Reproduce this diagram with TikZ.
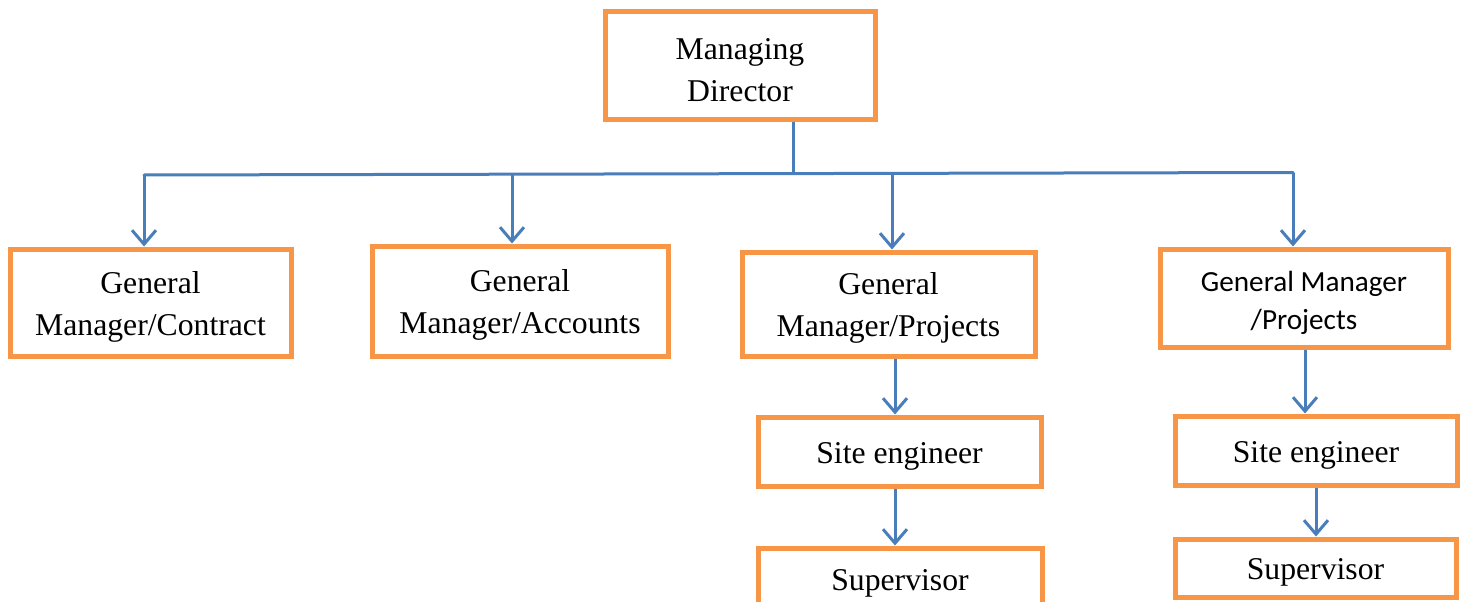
\documentclass[tikz,border=0pt]{standalone}
\usepackage{fontspec}
\setmainfont{Liberation Serif}
\newfontfamily\calib{Carlito}
\usetikzlibrary{arrows.meta}
\definecolor{boxorange}{HTML}{F79646}
\definecolor{lineblue}{HTML}{4A7EBB}
\newcommand\tstrut{\rule{0pt}{30pt}}
\tikzset{
  box/.style={draw=boxorange, line width=5pt, rectangle, inner sep=0pt, align=center,
    font=\fontsize{31.7}{42}\selectfont},
  sansbox/.style={box, font=\calib\fontsize{29.2}{38}\selectfont},
  conn/.style={draw=lineblue, line width=3pt},
  arr/.style={conn, -{Straight Barb[length=14pt,width=24pt,line width=3pt]}}
}
\begin{document}
\begin{tikzpicture}[x=1pt,y=-1pt]
\useasboundingbox (0,0) rectangle (1465,602);
% boxes
\node[box, minimum width=270pt, minimum height=107pt] (md) at (740,65.5) {\tstrut Managing\\Director};
\node[box, minimum width=281pt, minimum height=107pt] (gc) at (150.5,302.5) {\tstrut General\\Manager/Contract};
\node[box, minimum width=296pt, minimum height=110pt] (ga) at (520,301) {\tstrut General\\Manager/Accounts};
\node[box, minimum width=293pt, minimum height=104pt] (gp) at (888.5,304) {\tstrut General\\Manager/Projects};
\node[sansbox, minimum width=288pt, minimum height=98pt] (gp2) at (1304,298) {\tstrut General Manager\\/Projects};
\node[box, minimum width=283pt, minimum height=69pt] (se1) at (899.5,451.5) {\tstrut Site engineer};
\node[box, minimum width=284pt, minimum height=62pt] (su1) at (900,579) {\tstrut Supervisor};
\node[box, minimum width=282pt, minimum height=69pt] (se2) at (1316,450.5) {\tstrut Site engineer};
\node[box, minimum width=281pt, minimum height=58pt] (su2) at (1315.5,568) {\tstrut Supervisor};
% bus
\coordinate (bL) at (144,175);
\coordinate (bA) at (512,174.2);
\coordinate (bM) at (793,173.5);
\coordinate (bP) at (892,173.2);
\coordinate (bR) at (1293,172.5);
\draw[conn] (bM |- md.south) -- (bM);
\draw[conn, line cap=round] (bL) -- (bR);
\draw[arr] (bL) -- (bL |- gc.north);
\draw[arr] (bA) -- (bA |- ga.north);
\draw[arr] (bP) -- (bP |- gp.north);
\draw[arr] (bR) -- (bR |- gp2.north);
% lower chains
\draw[arr] ([xshift=6.5pt]gp.south) -- ([xshift=-4.5pt]se1.north);
\draw[arr] ([xshift=-4.5pt]se1.south) -- ([xshift=-5pt]su1.north);
\draw[arr] ([xshift=1pt]gp2.south) -- ([xshift=-11pt]se2.north);
\draw[arr] (se2.south) -- ([xshift=0.5pt]su2.north);
\end{tikzpicture}
\end{document}
